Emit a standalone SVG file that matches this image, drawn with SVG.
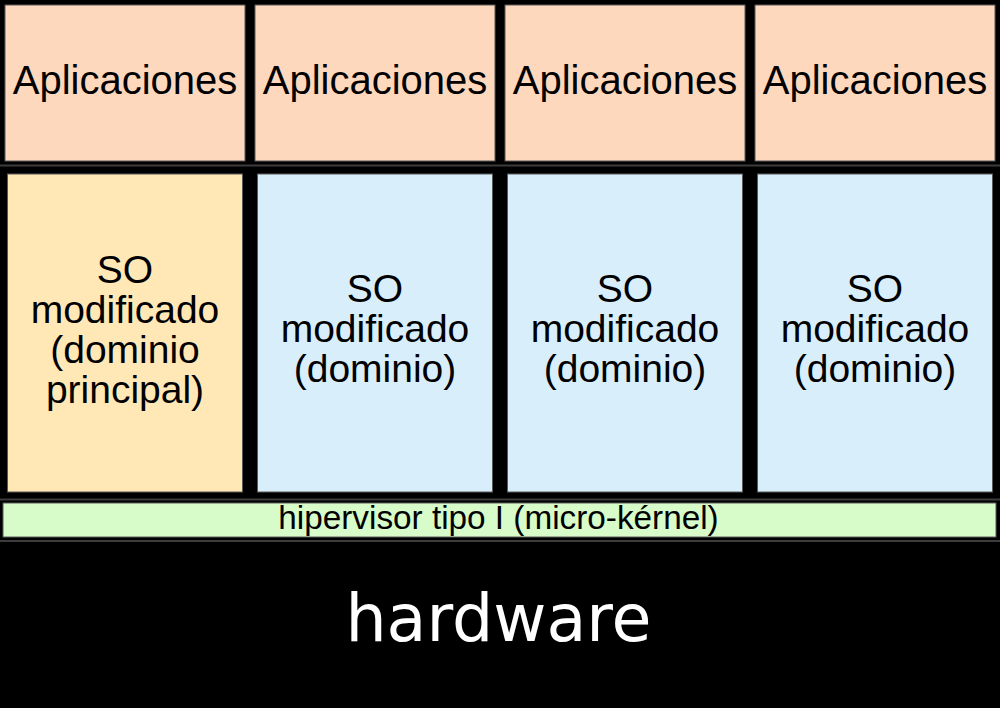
<svg xmlns="http://www.w3.org/2000/svg" width="1000" height="708" viewBox="0 0 1000 708">
<style>
.box{stroke:#5a5a5a;stroke-width:1}
.app{fill:#fed8bd}
.dom0{fill:#ffe8b6}
.dom{fill:#d8eefb}
.hyp{fill:#d7fbc9}
.sep{stroke:#3c3c3c;stroke-width:2}
.t{font-family:"Liberation Sans",Arial,sans-serif;fill:#000;text-anchor:middle}
.a{font-size:40px}
.s{font-size:39px}
.h{font-size:33.3px}
.hw{font-family:"DejaVu Sans",sans-serif;font-size:65px;fill:#fff;text-anchor:middle}
</style>
<rect x="0" y="0" width="1000" height="708" fill="#000"/>
<g id="separators">
<line class="sep" x1="0" y1="165.5" x2="1000" y2="165.5"/>
<line class="sep" x1="0" y1="499.5" x2="1000" y2="499.5"/>
<line class="sep" x1="0" y1="541" x2="1000" y2="541"/>
</g>
<g id="app1"><rect class="box app" x="5" y="5" width="240" height="156"/><text class="t a" x="125" y="94">Aplicaciones</text></g>
<g id="app2"><rect class="box app" x="255" y="5" width="240" height="156"/><text class="t a" x="375" y="94">Aplicaciones</text></g>
<g id="app3"><rect class="box app" x="505" y="5" width="240" height="156"/><text class="t a" x="625" y="94">Aplicaciones</text></g>
<g id="app4"><rect class="box app" x="755" y="5" width="240" height="156"/><text class="t a" x="875" y="94">Aplicaciones</text></g>
<g id="dom0"><rect class="box dom0" x="7.5" y="174" width="235" height="318"/>
<text class="t s" x="125" y="283"><tspan x="125">SO</tspan><tspan x="125" dy="40">modificado</tspan><tspan x="125" dy="40">(dominio</tspan><tspan x="125" dy="40">principal)</tspan></text></g>
<g id="dom1"><rect class="box dom" x="257.5" y="174" width="235" height="318"/>
<text class="t s" x="375" y="302"><tspan x="375">SO</tspan><tspan x="375" dy="40">modificado</tspan><tspan x="375" dy="40">(dominio)</tspan></text></g>
<g id="dom2"><rect class="box dom" x="507.5" y="174" width="235" height="318"/>
<text class="t s" x="625" y="302"><tspan x="625">SO</tspan><tspan x="625" dy="40">modificado</tspan><tspan x="625" dy="40">(dominio)</tspan></text></g>
<g id="dom3"><rect class="box dom" x="757.5" y="174" width="235" height="318"/>
<text class="t s" x="875" y="302"><tspan x="875">SO</tspan><tspan x="875" dy="40">modificado</tspan><tspan x="875" dy="40">(dominio)</tspan></text></g>
<g id="hypervisor"><rect class="box hyp" x="3" y="503" width="993" height="34"/><text class="t h" x="498.5" y="529">hipervisor tipo I (micro-kérnel)</text></g>
<g id="hardware"><text class="hw" x="498.5" y="641">hardware</text></g>
</svg>
